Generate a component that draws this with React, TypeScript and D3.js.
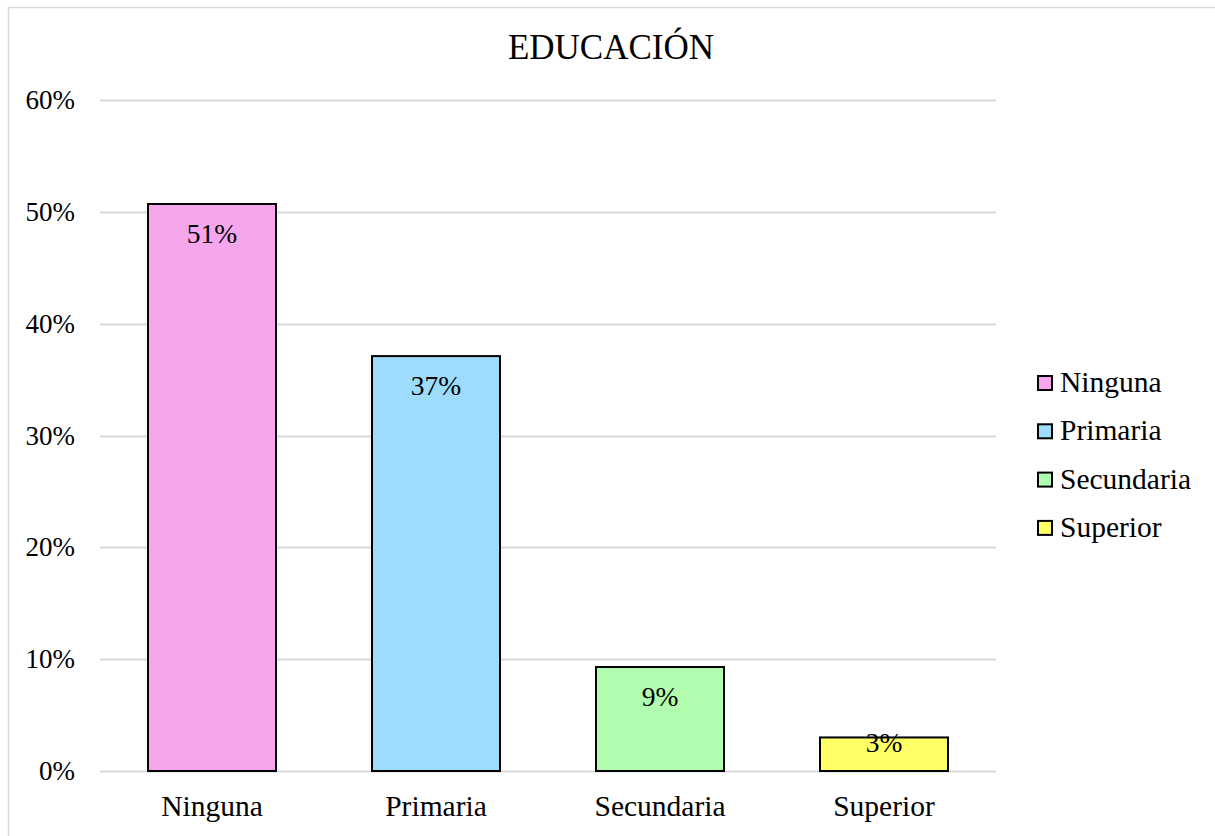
import React from "react";
import * as d3 from "d3";

const categories = ["Ninguna", "Primaria", "Secundaria", "Superior"];
const values = [0.507, 0.371, 0.093, 0.03];
const labels = ["51%", "37%", "9%", "3%"];
const colors = ["#F6A6EC", "#9DDCFC", "#B1FCAE", "#FFFF66"];
const yTicks = [0, 0.1, 0.2, 0.3, 0.4, 0.5, 0.6];
const title = "EDUCACIÓN";

const W = 1215;
const H = 836;
const FONT = "'Liberation Serif', 'Times New Roman', serif";

export default function App() {
  const x = d3.scaleBand<string>().domain(categories).range([100, 996]).paddingInner(96 / 224).paddingOuter(48 / 224);
  const y = d3.scaleLinear().domain([0, 0.6]).range([771, 100]);
  const fmt = d3.format(".0%");
  return (
    <svg width={W} height={H} style={{ position: "absolute", left: 0, top: 0 }} fontFamily={FONT}>
      <rect x={0} y={0} width={W} height={H} fill="#fff" />
      <rect x={8.5} y={7.5} width={W + 10} height={H + 10} fill="none" stroke="#d9d9d9" strokeWidth={1.5} />
      <text x={611} y={59} textAnchor="middle" fontSize={35} fill="#000">{title}</text>
      {yTicks.map((t) => (
        <g key={t}>
          <line x1={100} x2={996} y1={Math.round(y(t)) + 0.5} y2={Math.round(y(t)) + 0.5} stroke="#d9d9d9" strokeWidth={2} />
          <text x={75} y={y(t) + 9} textAnchor="end" fontSize={27} fill="#000">{fmt(t)}</text>
        </g>
      ))}
      {categories.map((c, i) => {
        const top = y(values[i]);
        const bottom = y(0);
        const cx = (x(c) as number) + x.bandwidth() / 2;
        const ly = Math.min(top + 39, (top + bottom) / 2 - 2);
        return (
          <g key={c}>
            <rect x={x(c)} y={top} width={x.bandwidth()} height={bottom - top} fill={colors[i]} stroke="#000" strokeWidth={2} />
            <text x={cx} y={ly} textAnchor="middle" fontSize={27.5} fill="#000">{labels[i]}</text>
            <text x={cx} y={816} textAnchor="middle" fontSize={29.5} fill="#000">{c}</text>
          </g>
        );
      })}
      {categories.map((c, i) => (
        <g key={"lg" + c} transform={`translate(0, ${i * 48.3})`}>
          <rect x={1038} y={376} width={14} height={14} fill={colors[i]} stroke="#000" strokeWidth={2} />
          <text x={1060} y={392} fontSize={29.5} fill="#000">{c}</text>
        </g>
      ))}
    </svg>
  );
}
